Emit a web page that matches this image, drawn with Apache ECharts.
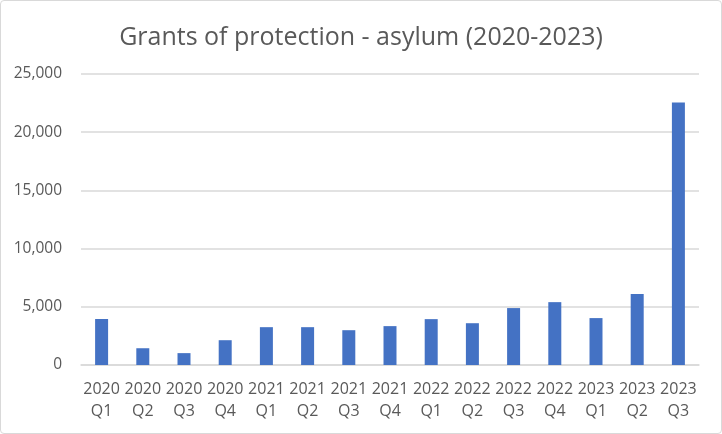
<!DOCTYPE html>
<html><head><meta charset="utf-8">
<script src="https://cdn.jsdelivr.net/npm/echarts@6/dist/echarts.min.js"></script>
<style>
html,body{margin:0;padding:0;background:#fff;}
#wrap{position:absolute;left:0;top:0;width:720px;height:432px;border:1px solid #d9d9d9;border-radius:4px;}
#c{width:722px;height:434px;position:absolute;left:0;top:0;}
</style></head>
<body><div id="wrap"></div><div id="c"></div>
<script>
const categories = ["2020\nQ1","2020\nQ2","2020\nQ3","2020\nQ4","2021\nQ1","2021\nQ2","2021\nQ3","2021\nQ4","2022\nQ1","2022\nQ2","2022\nQ3","2022\nQ4","2023\nQ1","2023\nQ2","2023\nQ3"];
const grants = [3950,1440,1020,2130,3250,3250,2990,3340,3940,3590,4890,5400,4030,6100,22560];
const yTicks = {min:0,max:25000,interval:5000};
const font = "'Open Sans', 'Liberation Sans', sans-serif";
const chart = echarts.init(document.getElementById('c'));
chart.setOption({
  animation:false,
  title:{text:"Grants of protection - asylum (2020-2023)",left:'center',top:20,
    textStyle:{fontFamily:font,fontSize:25,fontWeight:'normal',color:'#595959'}},
  grid:{left:81,right:23,top:74,bottom:69},
  xAxis:{type:'category',data:categories,
    axisLine:{lineStyle:{color:'#d9d9d9',width:1.5}},axisTick:{show:false},
    axisLabel:{fontFamily:font,fontSize:16,color:'#595959',lineHeight:22,margin:13,interval:0}},
  yAxis:{type:'value',min:yTicks.min,max:yTicks.max,interval:yTicks.interval,
    axisLabel:{fontFamily:font,fontSize:15.5,color:'#595959',margin:19,
      formatter:v=>v.toLocaleString('en-US')},
    splitLine:{lineStyle:{color:'#d9d9d9',width:1.5}},axisLine:{show:false},axisTick:{show:false}},
  series:[{type:'bar',data:grants,barWidth:13,itemStyle:{color:'#4472c4'}}]
});
</script></body></html>
